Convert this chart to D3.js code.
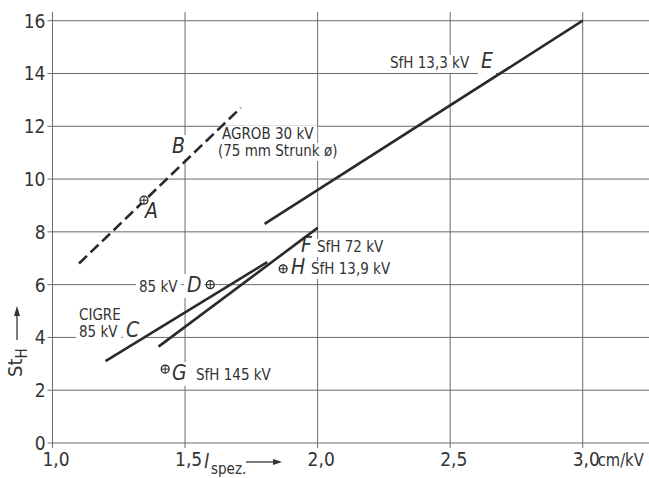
<!DOCTYPE html>
<html>
<head>
<meta charset="utf-8">
<script src="https://cdn.jsdelivr.net/npm/d3@7"></script>
<style>
  body { margin: 0; background: #fff; }
  svg { display: block; font-family: "Liberation Sans Narrow", "DejaVu Sans Condensed", sans-serif; }
</style>
</head>
<body>
<svg id="chart" width="649" height="478"></svg>
<script>
// tick values and labels
const xTicks = [1.0, 1.5, 2.0, 2.5, 3.0];
const xTickLabels = ["1,0", "1,5", "2,0", "2,5", "3,0"];
const xUnit = "cm/kV";
const yTicks = [0, 2, 4, 6, 8, 10, 12, 14, 16];

// measured curves (l_spez, St_H)
const lineB = [[1.10, 6.8], [1.71, 12.7]];   // AGROB 30 kV, dashed
const lineC = [[1.20, 3.1], [1.81, 6.85]];   // CIGRE 85 kV
const lineE = [[1.80, 8.3], [3.00, 16.0]];   // SfH 13,3 kV
const lineF = [[1.40, 3.65], [2.00, 8.15]];  // SfH 72 kV

// single points
const pointNames = ["A", "D", "G", "H"];
const pointX = [1.345, 1.595, 1.425, 1.87];
const pointY = [9.2, 6.0, 2.8, 6.6];

const svg = d3.select("#chart");
const ink = "#2a2a2a";
const gridColor = "#6a6a6a";

const x = d3.scaleLinear().domain([1.0, 3.25]).range([52.5, 649]);
const y = d3.scaleLinear().domain([0, 16.33]).range([443, 12]);

// grid
const grid = svg.append("g").attr("class", "grid");
grid.selectAll("line.v").data(xTicks).join("line")
  .attr("class", "v")
  .attr("x1", d => x(d)).attr("x2", d => x(d))
  .attr("y1", y(16.33)).attr("y2", y(0) + 5)
  .attr("stroke", gridColor).attr("stroke-width", 1);
grid.selectAll("line.h").data(yTicks).join("line")
  .attr("class", "h")
  .attr("x1", x(1.0) - 5).attr("x2", x(3.25))
  .attr("y1", d => y(d)).attr("y2", d => y(d))
  .attr("stroke", gridColor).attr("stroke-width", 1);

// tick labels
const tickFont = 19;
svg.append("g").selectAll("text").data(yTicks).join("text")
  .attr("x", x(1.0) - 7)
  .attr("y", d => y(d) + 7)
  .attr("text-anchor", "end")
  .attr("font-size", tickFont)
  .attr("fill", "#333")
  .text(d => d);

svg.append("g").selectAll("text").data(xTicks).join("text")
  .attr("x", d => x(d) - 10)
  .attr("y", y(0) + 23)
  .attr("font-size", tickFont)
  .attr("fill", "#333")
  .text((d, i) => xTickLabels[i]);

svg.append("text")
  .attr("x", x(3.0) + 15)
  .attr("y", y(0) + 23)
  .attr("font-size", 18)
  .attr("fill", "#333")
  .attr("textLength", 46)
  .attr("lengthAdjust", "spacingAndGlyphs")
  .text(xUnit);

// axis titles
const xTitle = svg.append("text")
  .attr("x", 204).attr("y", 468)
  .attr("font-size", 20).attr("fill", "#333");
xTitle.append("tspan").attr("font-style", "italic").text("l");
xTitle.append("tspan").attr("font-size", 15).attr("dy", 6).attr("dx", 2).text("spez.");
svg.append("line")
  .attr("x1", 246).attr("x2", 276).attr("y1", 462).attr("y2", 462)
  .attr("stroke", "#333").attr("stroke-width", 1.3);
svg.append("path")
  .attr("d", "M282,462 L273,459 L273,465 Z").attr("fill", "#333");

const yTitle = svg.append("text")
  .attr("transform", "translate(22,377) rotate(-90)")
  .attr("font-size", 20).attr("fill", "#333");
yTitle.append("tspan").text("St");
yTitle.append("tspan").attr("font-size", 15).attr("dy", 5).text("H");
svg.append("line")
  .attr("x1", 17).attr("x2", 17).attr("y1", 340).attr("y2", 313)
  .attr("stroke", "#333").attr("stroke-width", 1.3);
svg.append("path")
  .attr("d", "M17,306 L14,316 L20,316 Z").attr("fill", "#333");

// annotations, each on a white patch that breaks the grid behind it
const noteBg = svg.append("g");
const notes = svg.append("g").attr("fill", "#333");

function note(px, py, str, size, italic) {
  const t = notes.append("text")
    .attr("x", px).attr("y", py)
    .attr("font-size", size)
    .attr("font-style", italic ? "italic" : null)
    .text(str);
  const b = t.node().getBBox();
  noteBg.append("rect")
    .attr("x", b.x - 3).attr("y", b.y + 1)
    .attr("width", b.width + 6).attr("height", b.height)
    .attr("fill", "#fff");
  return t;
}

const small = 15, big = 21;
note(222, 139, "AGROB 30 kV", small);
note(218, 156, "(75 mm Strunk ø)", small);
note(172, 153, "B", big, true);
note(145, 218, "A", big, true);
note(390, 68, "SfH 13,3 kV", small);
note(481, 68, "E", big, true);
note(301, 252, "F", big, true);
note(317, 252, "SfH 72 kV", small);
note(291, 274, "H", big, true);
note(311, 274, "SfH 13,9 kV", small);
note(139, 292, "85 kV", small);
note(187, 292, "D", big, true);
note(79, 320, "CIGRE", small);
note(79, 337, "85 kV", small);
note(126, 337, "C", big, true);
note(172, 380, "G", big, true);
note(196, 380, "SfH 145 kV", small);

// curves
const line = d3.line().x(d => x(d[0])).y(d => y(d[1]));
const curves = [
  { pts: lineB, dash: "11,5" },
  { pts: lineC, dash: null },
  { pts: lineE, dash: null },
  { pts: lineF, dash: null }
];
svg.append("g").selectAll("path").data(curves).join("path")
  .attr("d", d => line(d.pts))
  .attr("fill", "none")
  .attr("stroke", ink)
  .attr("stroke-width", 2.6)
  .attr("stroke-dasharray", d => d.dash);

// point markers (circle with cross)
const marks = svg.append("g").selectAll("g").data(pointNames).join("g")
  .attr("transform", (d, i) => `translate(${x(pointX[i])},${y(pointY[i])})`);
marks.append("circle").attr("r", 4)
  .attr("fill", "#fff").attr("stroke", ink).attr("stroke-width", 1.2);
marks.append("path").attr("d", "M-4,0H4M0,-4V4")
  .attr("stroke", ink).attr("stroke-width", 1);
</script>
</body>
</html>
